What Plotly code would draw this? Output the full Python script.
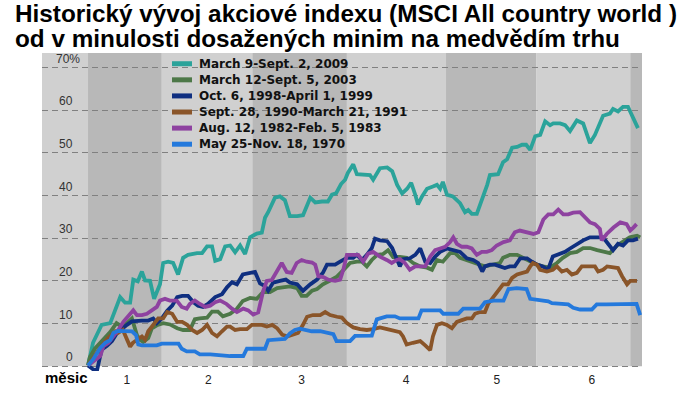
import plotly.graph_objects as go

# ---------------- data (trading days since the bear-market low, % gain) ----------------
series_names = [
    "March 9-Sept. 2, 2009",
    "March 12-Sept. 5, 2003",
    "Oct. 6, 1998-April 1, 1999",
    "Sept. 28, 1990-March 21, 1991",
    "Aug. 12, 1982-Feb. 5, 1983",
    "May 25-Nov. 18, 1970",
]
series_colors = ["#2ba39a", "#4d7848", "#0f2f80", "#8a5529", "#8e42a0", "#2479dc"]

days_2009 = [0, 1.1, 3.0, 4.9, 7.1, 8.2, 9.3, 10.0, 11.0, 11.9,
             12.6, 13.7, 14.6, 15.9, 16.6, 17.7, 18.8, 19.9, 21.0, 22.1,
             24.1, 25.2, 26.3, 27.4, 28.1, 29.2, 30.3, 31.4, 32.5, 33.6,
             34.7, 35.8, 37.3, 38.4, 39.1, 39.8, 41.3, 42.4, 43.5, 44.6,
             46.2, 47.5, 49.1, 50.2, 51.7, 53.0, 53.9, 54.8, 55.9, 56.8,
             57.4, 58.6, 59.4, 60.8, 62.3, 63.0, 64.5, 66.1, 67.2, 68.3,
             69.4, 70.5, 71.4, 72.3, 72.9, 73.8, 74.9, 76.2, 77.1, 77.8,
             78.4, 79.3, 80.6, 82.2, 83.3, 84.0, 84.8, 85.9, 87.1, 88.2,
             88.8, 90.6, 91.7, 92.6, 93.7, 94.8, 95.9, 96.8, 97.7, 98.8,
             99.9, 101.0, 102.1, 102.8, 104.3, 105.4, 106.5, 108.0, 109.4, 110.2,
             110.9, 112.0, 113.1, 113.8, 115.3, 116.0, 117.1, 118.2, 119.3, 120.4,
             121.5]
pct_2009 = [0.2, 5.5, 9.7, 10.1, 16.2, 14.9, 14.9, 20.3, 19.9, 22.2,
            20.1, 20.0, 15.8, 19.2, 24.2, 24.5, 24.2, 21.5, 25.4, 26.1,
            26.5, 26.5, 28.1, 28.1, 24.7, 25.1, 28.1, 28.3, 26.7, 28.3,
            26.3, 30.2, 31.1, 31.3, 34.8, 36.1, 39.5, 39.8, 38.9, 35.2,
            35.2, 35.4, 39.5, 38.4, 38.6, 38.6, 40.2, 40.5, 42.7, 43.7,
            45.3, 47.3, 45.0, 45.0, 44.8, 43.7, 46.4, 46.6, 45.7, 42.5,
            40.5, 41.6, 43.0, 40.2, 37.9, 39.8, 41.6, 42.1, 42.5, 41.6,
            43.2, 40.2, 39.8, 38.2, 36.1, 36.6, 35.7, 35.7, 39.1, 42.5,
            44.8, 45.0, 47.8, 48.5, 51.2, 51.4, 51.9, 51.9, 50.7, 53.9,
            54.2, 57.4, 56.5, 56.9, 56.9, 56.5, 55.1, 57.6, 56.9, 54.6,
            52.3, 54.2, 56.9, 58.7, 59.2, 60.3, 59.7, 60.8, 60.8, 58.1,
            55.8]

days_2003 = [0, 0.4, 1.5, 3.0, 4.9, 6.3, 7.7, 8.6, 9.7, 10.8,
             11.5, 12.2, 13.3, 14.1, 15.2, 16.6, 18.1, 19.7, 21.0, 22.5,
             23.6, 24.7, 26.3, 27.4, 28.7, 29.8, 31.4, 32.9, 34.2, 35.8,
             37.3, 38.7, 40.2, 41.8, 43.1, 44.6, 46.2, 47.2, 48.3, 49.5,
             50.6, 51.9, 53.5, 55.0, 56.3, 57.9, 59.4, 60.5, 61.6, 62.7,
             63.9, 65.2, 66.3, 67.4, 68.9, 70.4, 71.8, 73.4, 74.9, 76.0,
             77.1, 78.4, 80.0, 81.1, 82.2, 83.7, 85.1, 86.6, 87.7, 89.3,
             91.0, 91.7, 93.2, 94.8, 96.1, 97.7, 99.2, 100.5, 102.1, 103.6,
             104.9, 106.5, 108.0, 109.4, 110.9, 112.5, 113.8, 115.3, 116.9, 118.2,
             119.7, 121.3, 122.0]
pct_2003 = [0.2, 2.1, 4.1, 5.9, 8.0, 10.1, 9.1, 10.1, 11.2, 7.3,
            6.2, 5.7, 6.6, 8.9, 9.6, 10.1, 9.8, 8.9, 8.5, 8.5,
            11.0, 11.2, 11.4, 12.8, 12.8, 11.7, 12.3, 13.5, 15.3, 16.0,
            15.8, 17.4, 17.4, 18.3, 18.5, 18.7, 18.3, 16.5, 16.5, 17.7,
            18.1, 19.2, 20.1, 21.0, 22.4, 24.2, 24.5, 24.5, 23.4, 24.9,
            26.1, 26.3, 27.2, 25.6, 25.6, 25.4, 24.2, 23.4, 23.1, 22.6,
            24.9, 24.5, 26.5, 26.5, 25.4, 24.9, 24.5, 23.8, 23.4, 23.8,
            24.2, 25.4, 26.1, 26.1, 25.4, 24.5, 23.8, 23.4, 23.1, 24.2,
            25.4, 26.5, 26.8, 27.7, 27.7, 27.2, 26.8, 26.5, 28.3, 29.1,
            30.2, 30.6, 30.2]

days_1998 = [0, 1.1, 2.0, 3.0, 4.2, 5.3, 6.4, 7.5, 8.6, 9.7,
             10.8, 11.9, 13.3, 14.4, 15.2, 16.3, 17.5, 18.6, 19.7, 20.8,
             22.1, 23.2, 24.3, 25.4, 26.5, 28.1, 29.6, 30.7, 31.8, 32.9,
             34.2, 35.8, 36.9, 38.0, 39.1, 39.8, 40.9, 42.4, 43.7, 44.6,
             46.2, 47.5, 49.1, 50.6, 51.9, 52.8, 54.6, 55.7, 57.2, 58.6,
             59.4, 60.5, 61.6, 62.7, 63.4, 64.5, 66.1, 67.2, 68.3, 68.9,
             69.6, 71.1, 72.3, 73.4, 74.5, 75.6, 76.7, 77.8, 79.3, 80.6,
             82.2, 83.7, 85.1, 86.2, 87.1, 87.7, 88.8, 89.9, 91.0, 92.1,
             93.2, 94.3, 95.5, 97.0, 98.1, 99.2, 100.5, 101.6, 102.7, 103.8,
             105.4, 106.5, 108.0, 109.4, 110.9, 112.5, 113.8, 114.9, 116.0, 117.1,
             118.2, 119.3, 120.4, 121.5]
pct_1998 = [0.2, -0.7, -0.9, 3.9, 4.8, 5.9, 7.8, 8.9, 9.7, 10.5,
            10.7, 10.7, 10.7, 11.2, 10.1, 11.2, 13.0, 14.2, 16.2, 16.5,
            16.5, 15.1, 14.2, 13.9, 14.6, 16.2, 16.9, 18.5, 19.7, 19.2,
            21.5, 21.9, 22.1, 19.4, 18.8, 17.7, 19.6, 20.0, 20.3, 19.6,
            19.2, 17.7, 19.2, 20.3, 21.9, 23.8, 23.8, 24.5, 25.4, 25.4,
            26.1, 24.9, 26.1, 27.7, 29.9, 29.5, 29.3, 27.7, 24.5, 23.4,
            25.1, 25.3, 26.1, 27.6, 24.5, 24.2, 25.7, 26.8, 27.6, 27.2,
            26.8, 25.3, 24.9, 24.2, 22.2, 23.4, 23.8, 23.8, 23.4, 23.0,
            23.4, 23.4, 25.3, 25.3, 24.5, 23.8, 23.4, 22.6, 25.7, 26.1,
            26.8, 27.6, 28.7, 29.5, 30.2, 30.2, 30.2, 28.7, 27.2, 28.7,
            28.3, 29.5, 29.5, 29.9]

days_1990 = [0.0, 0.4, 1.5, 3.0, 4.4, 6.0, 6.6, 7.7, 8.6, 9.3,
             9.9, 10.8, 11.9, 12.6, 13.3, 14.4, 15.5, 16.6, 17.5, 18.6,
             19.7, 20.8, 21.9, 23.0, 24.1, 25.2, 26.3, 27.4, 28.5, 29.6,
             30.7, 31.4, 32.5, 33.6, 35.1, 36.2, 37.3, 38.4, 39.5, 40.7,
             41.8, 42.9, 44.0, 45.1, 46.4, 47.5, 48.4, 49.7, 51.3, 52.4,
             53.5, 55.0, 56.1, 57.2, 58.6, 60.1, 61.6, 63.0, 64.5, 66.1,
             67.4, 68.9, 69.6, 70.4, 71.8, 73.4, 74.5, 75.6, 76.2, 77.1,
             78.2, 79.3, 80.4, 81.5, 82.6, 83.7, 84.8, 85.5, 86.6, 87.7,
             88.4, 89.5, 90.6, 91.7, 92.8, 93.7, 94.8, 95.9, 97.0, 97.7,
             98.3, 99.2, 99.9, 101.4, 102.7, 103.6, 104.7, 105.8, 106.9, 108.0,
             109.1, 110.5, 112.0, 112.7, 113.8, 114.7, 116.0, 117.1, 118.0, 119.1,
             119.8, 121.3]
pct_1990 = [0.2, 0.9, 2.5, 4.8, 6.6, 8.2, 7.8, 8.5, 6.2, 4.6,
            5.5, 6.2, 7.0, 6.2, 8.2, 9.7, 11.2, 11.2, 12.7, 12.3,
            10.4, 10.4, 9.7, 8.5, 7.8, 8.5, 9.7, 7.8, 7.0, 8.2,
            9.3, 9.3, 8.5, 8.7, 8.7, 9.7, 9.7, 9.7, 9.3, 9.7,
            8.9, 7.4, 7.0, 7.4, 7.8, 9.7, 11.6, 12.0, 12.0, 12.7,
            12.0, 11.6, 11.4, 10.1, 9.1, 8.7, 8.5, 8.7, 9.1, 8.7,
            8.3, 8.0, 7.0, 5.1, 5.5, 5.9, 4.9, 3.8, 7.0, 9.7,
            10.1, 9.7, 8.9, 10.4, 10.8, 11.2, 11.2, 12.3, 12.7, 12.7,
            14.6, 16.2, 17.7, 19.2, 19.2, 20.7, 21.5, 21.9, 22.2, 23.4,
            24.2, 23.8, 22.6, 22.2, 22.6, 23.4, 22.2, 22.6, 21.5, 21.9,
            23.4, 23.4, 23.4, 22.2, 22.6, 23.4, 23.2, 23.0, 21.1, 19.2,
            20.0, 20.0]

days_1982 = [0.0, 1.5, 2.7, 3.4, 4.5, 5.6, 6.7, 7.8, 8.9, 10.0,
             10.8, 11.9, 13.0, 14.1, 15.2, 15.9, 17.0, 18.1, 19.6, 20.7,
             21.8, 22.5, 23.6, 24.7, 25.9, 27.0, 28.1, 29.2, 30.6, 31.8,
             32.9, 34.3, 35.4, 36.5, 37.6, 38.7, 39.5, 40.6, 41.7, 42.8,
             43.9, 45.0, 46.1, 47.2, 48.3, 49.5, 50.2, 50.9, 52.0, 53.1,
             54.6, 55.7, 56.4, 57.2, 58.6, 59.7, 60.8, 61.9, 63.0, 64.5,
             66.0, 67.1, 68.2, 68.9, 70.0, 71.1, 72.3, 74.5, 75.6, 76.7,
             77.8, 78.9, 80.0, 80.7, 81.5, 82.6, 83.7, 84.8, 85.9, 87.0,
             88.1, 89.2, 90.3, 91.8, 93.2, 94.3, 95.4, 96.9, 98.4, 99.5,
             100.6, 101.7, 102.8, 103.9, 105.0, 106.1, 107.2, 108.7, 109.8, 110.9,
             112.0, 113.1, 113.5, 114.6, 116.1, 117.6, 119.0, 119.8, 120.5, 121.2]
pct_1982 = [0.2, 1.3, 2.4, 4.7, 5.5, 7.0, 8.5, 10.4, 11.6, 13.1,
            12.0, 12.0, 12.3, 13.1, 13.9, 15.4, 15.8, 15.4, 15.4, 13.9,
            13.5, 14.6, 15.4, 14.6, 13.9, 14.2, 15.0, 15.4, 14.6, 13.5,
            12.7, 13.5, 13.1, 12.1, 12.6, 17.6, 20.0, 20.2, 22.4, 24.2,
            22.1, 21.9, 24.2, 24.9, 24.5, 24.3, 23.8, 21.1, 20.9, 20.3,
            20.0, 20.3, 22.6, 26.1, 26.1, 26.1, 24.5, 26.4, 26.8, 25.7,
            24.9, 24.2, 24.9, 25.1, 24.2, 22.6, 23.4, 23.4, 25.7, 27.2,
            27.6, 28.0, 29.1, 30.2, 28.7, 28.0, 28.0, 27.6, 26.1, 26.8,
            26.8, 27.2, 28.3, 29.1, 29.5, 31.4, 31.8, 31.4, 31.0, 31.4,
            34.4, 35.6, 35.6, 36.7, 35.6, 35.6, 36.0, 36.1, 34.8, 33.7,
            33.3, 32.2, 29.5, 31.0, 32.5, 33.7, 33.3, 31.8, 32.5, 33.3]

days_1970 = [0.0, 1.1, 2.7, 3.8, 4.9, 5.6, 6.6, 8.6, 9.7, 10.6,
             11.1, 11.9, 13.7, 15.2, 16.3, 18.1, 20.0, 20.7, 21.8, 23.6,
             24.7, 27.0, 29.2, 31.4, 34.3, 35.1, 37.3, 39.1, 39.8, 41.7,
             43.5, 44.6, 45.7, 46.8, 47.9, 49.4, 51.3, 52.7, 54.2, 54.9,
             56.4, 57.9, 59.0, 60.8, 62.7, 63.8, 66.0, 67.8, 68.9, 71.1,
             73.0, 73.7, 75.6, 77.8, 78.5, 80.0, 81.8, 82.9, 84.8, 86.6,
             87.7, 89.6, 91.8, 92.9, 94.7, 96.9, 97.7, 99.9, 101.7, 102.5,
             104.3, 106.1, 107.2, 108.7, 111.3, 112.4, 114.6, 117.6, 119.8, 121.2,
             122.0]
pct_1970 = [0.2, 1.6, 4.3, 5.5, 6.1, 7.8, 8.3, 8.3, 8.2, 7.3,
            5.1, 4.9, 4.9, 4.9, 5.3, 5.3, 5.3, 4.1, 3.5, 3.5,
            2.8, 2.8, 2.6, 2.4, 2.4, 4.1, 4.1, 4.1, 6.1, 6.2,
            6.4, 7.7, 8.5, 8.8, 8.5, 8.2, 8.2, 7.9, 7.5, 5.9,
            5.9, 5.9, 7.1, 7.2, 7.2, 11.0, 11.7, 11.7, 11.2, 11.2,
            11.2, 13.1, 13.1, 13.1, 12.3, 12.3, 12.3, 13.5, 13.5, 13.5,
            15.0, 15.4, 15.4, 18.1, 18.3, 18.1, 15.8, 15.4, 15.2, 14.8,
            14.6, 14.5, 13.7, 13.3, 13.3, 14.5, 14.5, 14.6, 14.6, 14.6,
            12.0]

series_days = [days_2009, days_2003, days_1998, days_1990, days_1982, days_1970]
series_pct = [pct_2009, pct_2003, pct_1998, pct_1990, pct_1982, pct_1970]

# month bands (trading-day boundaries) and month labels
month_edges = [0.0, 16.3, 36.3, 57.2, 79.1, 99.0, 119.8]
month_label_pos = [8.6, 26.6, 47.2, 70.3, 90.3, 111.3]
month_labels = ["1", "2", "3", "4", "5", "6"]
y_ticks = [0, 10, 20, 30, 40, 50, 60, 70]
y_tick_text = ["0", "10", "20", "30", "40", "50", "60", "70%"]

title_line1 = "Historický vývoj akciové indexu (MSCI All country world )"
title_line2 = "od v minulosti dosažených minim na medvědím trhu"
x_axis_title = "měsic"

# ---------------- layout constants ----------------
W, H = 696, 399
ML, MR, MT, MB = 42, 54, 53, 20
PW, PH = W - ML - MR, H - MT - MB
X_RANGE = [-10.17, 122.4]
Y_RANGE = [-1.11, 73.4]
LIGHT = "#d0d0d0"
DARK = "#b8b8b8"


def px_x(p):  # pixel -> paper x
    return (p - ML) / PW


def px_y(p):  # pixel -> paper y
    return (H - MB - p) / PH


fig = go.Figure()
for name, color, xs, ys in zip(series_names, series_colors, series_days, series_pct):
    fig.add_trace(go.Scatter(x=xs, y=ys, mode="lines", name=name, showlegend=False,
                             line=dict(color=color, width=3.8), hoverinfo="skip"))

shapes = []
# background month bands
edges = [X_RANGE[0]] + month_edges + [X_RANGE[1]]
for i in range(len(edges) - 1):
    shapes.append(dict(type="rect", xref="x", yref="y", x0=edges[i], x1=edges[i + 1],
                       y0=0, y1=Y_RANGE[1], fillcolor=(LIGHT if i % 2 == 0 else DARK),
                       line=dict(width=0), layer="below"))

annotations = []
# legend (drawn by hand to match the compact original)
for i, (name, color) in enumerate(zip(series_names, series_colors)):
    ry = px_y(64 + 16.5 * i)
    shapes.append(dict(type="line", xref="paper", yref="paper", x0=px_x(172), x1=px_x(192),
                       y0=ry, y1=ry, line=dict(color=color, width=5)))
    annotations.append(dict(x=px_x(197), y=ry, xref="paper", yref="paper",
                            text="<b>%s</b>" % name, showarrow=False,
                            xanchor="left", yanchor="middle",
                            font=dict(family="DejaVu Sans", size=12, color="#111111")))

# y-axis labels sitting above the gridlines
for v, t in zip(y_ticks, y_tick_text):
    if t.endswith("%"):
        annotations.append(dict(x=-7.5, y=v, xref="x", yref="y", text=t, showarrow=False,
                                xanchor="left", yanchor="middle", yshift=9,
                                font=dict(family="Liberation Sans", size=12, color="#333333")))
    else:
        annotations.append(dict(x=-2.8, y=v, xref="x", yref="y", text=t, showarrow=False,
                                xanchor="right", yanchor="middle", yshift=9,
                                font=dict(family="Liberation Sans", size=12, color="#333333")))

annotations.append(dict(x=px_x(13), y=px_y(12.3), xref="paper", yref="paper",
                        text="<b>%s</b>" % title_line1, showarrow=False,
                        xanchor="left", yanchor="middle",
                        font=dict(family="Liberation Sans", size=24.3, color="#000000")))
annotations.append(dict(x=px_x(13), y=px_y(38.3), xref="paper", yref="paper",
                        text="<b>%s</b>" % title_line2, showarrow=False,
                        xanchor="left", yanchor="middle",
                        font=dict(family="Liberation Sans", size=24.3, color="#000000")))
annotations.append(dict(x=px_x(42.5), y=px_y(386), xref="paper", yref="paper",
                        text="<b>%s</b>" % x_axis_title, showarrow=False,
                        xanchor="left", yanchor="middle",
                        font=dict(family="Liberation Sans", size=15, color="#000000")))

fig.update_layout(
    width=W, height=H, autosize=False,
    margin=dict(l=ML, r=MR, t=MT, b=MB, pad=0),
    paper_bgcolor="#ffffff", plot_bgcolor="#ffffff",
    shapes=shapes, annotations=annotations,
    showlegend=False,
    xaxis=dict(range=X_RANGE, showgrid=False, zeroline=False, showline=False,
               tickmode="array", tickvals=month_label_pos, ticktext=month_labels,
               ticks="", tickfont=dict(family="Liberation Sans", size=12, color="#222222"),
               fixedrange=True),
    yaxis=dict(range=Y_RANGE, showgrid=True, gridcolor="#808080", griddash="6px,4px",
               gridwidth=1, zeroline=False, showline=False, tickmode="array",
               tickvals=y_ticks, showticklabels=False, ticks="", fixedrange=True),
)

fig.write_html("out.html", config={"displayModeBar": False},
               post_script="document.body.style.margin='0px';document.body.style.overflow='hidden';")
